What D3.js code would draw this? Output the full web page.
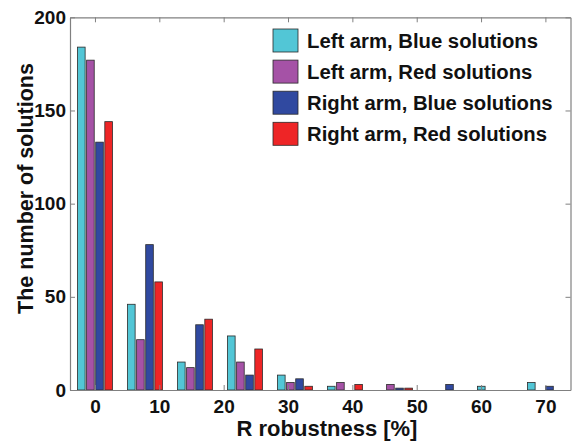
<!DOCTYPE html>
<html>
<head>
<meta charset="utf-8">
<script src="https://cdn.jsdelivr.net/npm/d3@7"></script>
<style>
  html, body { margin: 0; padding: 0; background: #fff; }
  svg { display: block; }
  text { font-family: "Liberation Sans", Arial, sans-serif; font-weight: bold; fill: #111; }
</style>
</head>
<body>
<svg id="chart" width="573" height="441"></svg>
<script>
// ---- data ----
const groupCenters = [0, 7.77, 15.54, 23.31, 31.08, 38.85, 46.62, 54.39, 62.16, 69.93];
const seriesNames = ["Left arm, Blue solutions", "Left arm, Red solutions", "Right arm, Blue solutions", "Right arm, Red solutions"];
const leftBlue  = [184, 46, 15, 29, 8, 2, 0, 0, 2, 4];
const leftRed   = [177, 27, 12, 15, 4, 4, 3, 0, 0, 0];
const rightBlue = [133, 78, 35, 8, 6, 0, 1, 3, 0, 2];
const rightRed  = [144, 58, 38, 22, 2, 3, 1, 0, 0, 0];
const xTicks = [0, 10, 20, 30, 40, 50, 60, 70];
const yTicks = [0, 50, 100, 150, 200];
const colors = ["#52c6d6", "#a552a6", "#3049a0", "#ee2526"];

const series = [leftBlue, leftRed, rightBlue, rightRed];

const svg = d3.select("#chart");
const L = 70, R = 570.5, T = 17.3, B = 390;

const x = d3.scaleLinear().domain([-3.88, 73.9]).range([L, R]);
const y = d3.scaleLinear().domain([0, 200]).range([B, T]);

const barPitch = 1.413, barWidth = 1.18;
const offsets = [-1.5, -0.5, 0.5, 1.5];

// bars
series.forEach((vals, si) => {
  svg.append("g").selectAll("rect")
    .data(vals.map((v, i) => ({ v, c: groupCenters[i] })))
    .join("rect")
    .attr("x", d => x(d.c + offsets[si] * barPitch - barWidth / 2))
    .attr("width", d => x(d.c + barWidth) - x(d.c))
    .attr("y", d => y(d.v))
    .attr("height", d => y(0) - y(d.v))
    .attr("fill", colors[si])
    .attr("stroke", d => d.v > 0 ? "#2a2a2a" : "none")
    .attr("stroke-width", 0.8);
});

// axes (box with inward ticks)
const axisColor = "#808080";
const gx = svg.append("g").attr("transform", `translate(0,${B})`)
  .call(d3.axisBottom(x).tickValues(xTicks).tickSize(-5).tickSizeOuter(0).tickPadding(8));
const gxt = svg.append("g").attr("transform", `translate(0,${T})`)
  .call(d3.axisTop(x).tickValues(xTicks).tickSize(-5).tickSizeOuter(0).tickFormat(""));
const gy = svg.append("g").attr("transform", `translate(${L},0)`)
  .call(d3.axisLeft(y).tickValues(yTicks).tickSize(-5).tickSizeOuter(0).tickPadding(8));
const gyr = svg.append("g").attr("transform", `translate(${R},0)`)
  .call(d3.axisRight(y).tickValues(yTicks).tickSize(-5).tickSizeOuter(0).tickFormat(""));

[gx, gxt, gy, gyr].forEach(g => {
  g.select(".domain").attr("stroke", axisColor).attr("stroke-width", 1.2);
  g.selectAll(".tick line").attr("stroke", axisColor).attr("stroke-width", 1);
  g.selectAll("text").attr("fill", "#111")
    .style("font-family", '"Liberation Sans", Arial, sans-serif')
    .style("font-weight", "bold").style("font-size", "19px");
});
gx.selectAll(".tick text").attr("dy", null).attr("y", 23);
gy.selectAll(".tick text").attr("x", -4);

// axis labels
svg.append("text").attr("x", 327).attr("y", 436).attr("text-anchor", "middle")
  .style("font-size", "22px").text("R robustness [%]");
svg.append("text").attr("transform", "translate(33,188.5) rotate(-90)")
  .attr("text-anchor", "middle").style("font-size", "21.5px").text("The number of solutions");

// legend
const lg = svg.append("g");
seriesNames.forEach((name, i) => {
  const cy = 40.5 + i * 31.1;
  lg.append("rect").attr("x", 273).attr("y", cy - 11.5).attr("width", 25).attr("height", 23)
    .attr("fill", colors[i]).attr("stroke", "#2a2a2a").attr("stroke-width", 0.8);
  lg.append("text").attr("x", 307).attr("y", cy + 7).style("font-size", "20.3px").text(name);
});
</script>
</body>
</html>
